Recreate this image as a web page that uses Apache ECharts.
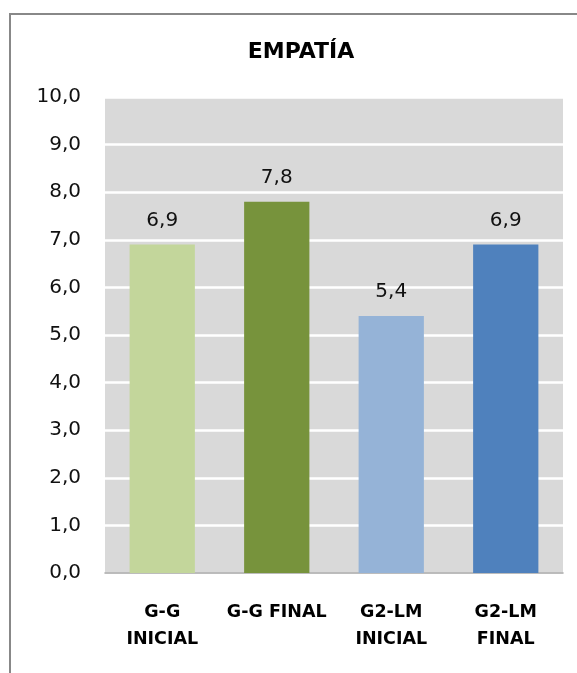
<!DOCTYPE html>
<html>
<head>
<meta charset="utf-8">
<script src="https://cdn.jsdelivr.net/npm/echarts@6/dist/echarts.min.js"></script>
<style>
html,body{margin:0;padding:0;background:#fff;overflow:hidden;}
#frame{position:absolute;left:9px;top:13px;width:700px;height:800px;border:2px solid #888;box-sizing:border-box;}
#chart{position:absolute;left:0;top:0;width:577px;height:673px;}
</style>
</head>
<body>
<div id="frame"></div>
<div id="chart"></div>
<script>
var categories = ['G-G\nINICIAL', 'G-G FINAL', 'G2-LM\nINICIAL', 'G2-LM\nFINAL'];
var values = [6.9, 7.8, 5.4, 6.9];
var barColors = ['#c3d69b', '#77933c', '#95b3d7', '#4f81bd'];
var yTicks = { min: 0, max: 10, interval: 1 };
var titleText = 'EMPATÍA';

var FONT = '"DejaVu Sans", sans-serif';
var chart = echarts.init(document.getElementById('chart'), null, {renderer: 'canvas'});
var fmt = function (v) { return Number(v).toFixed(1).replace('.', ','); };
chart.setOption({
  backgroundColor: 'transparent',
  animation: false,
  title: {
    text: titleText,
    left: 296,
    top: 36,
    textAlign: 'center',
    textStyle: { fontFamily: FONT, fontWeight: 'bold', fontSize: 22, color: '#000' }
  },
  grid: { left: 105, right: 14, top: 97, bottom: 100, show: true, backgroundColor: '#d9d9d9', borderWidth: 0 },
  xAxis: {
    type: 'category',
    data: categories,
    axisTick: { show: false },
    axisLine: { lineStyle: { color: '#a6a6a6', width: 1.5 } },
    axisLabel: { interval: 0, margin: 26, fontFamily: FONT, fontWeight: 'bold', fontSize: 17.5, lineHeight: 27, color: '#000' }
  },
  yAxis: {
    type: 'value',
    min: yTicks.min, max: yTicks.max, interval: yTicks.interval,
    axisLine: { show: false },
    axisTick: { show: false },
    splitLine: { lineStyle: { color: '#ffffff', width: 2.5 } },
    axisLabel: { margin: 24, fontFamily: FONT, fontSize: 20, color: '#111', formatter: fmt }
  },
  series: [{
    type: 'bar',
    barWidth: '57%',
    data: values.map(function (v, i) { return { value: v, itemStyle: { color: barColors[i] } }; }),
    label: { show: true, position: 'top', distance: 14, fontFamily: FONT, fontSize: 20, color: '#111', formatter: function (p) { return fmt(p.value); } }
  }]
});
</script>
</body>
</html>
